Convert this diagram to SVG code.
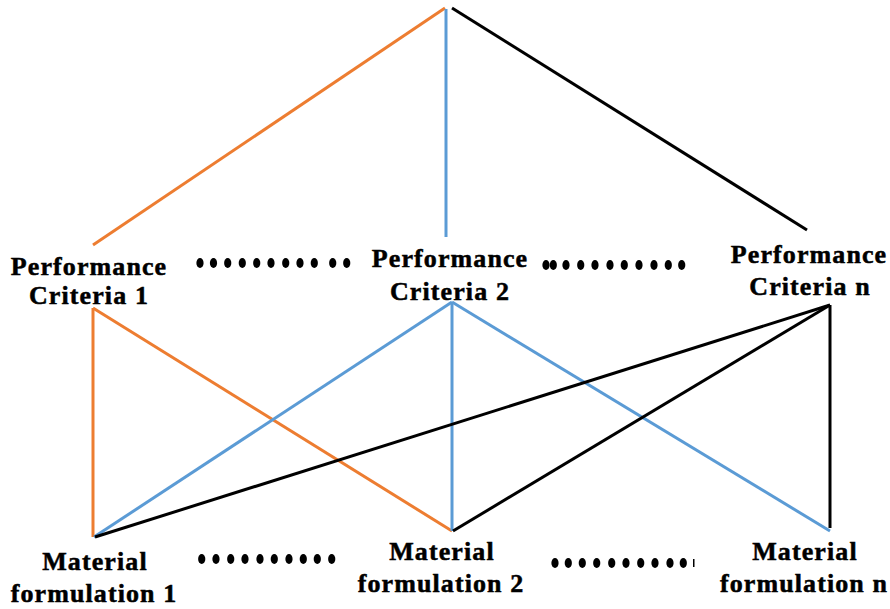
<svg xmlns="http://www.w3.org/2000/svg" width="890" height="609" viewBox="0 0 890 609">
<style>
.o{stroke:#ED7D31}.b{stroke:#5B9BD5}.k{stroke:#000}
#connectors line{stroke-width:3;fill:none}
text{font-family:"Liberation Serif","Times New Roman",serif;font-weight:bold;font-size:26px;letter-spacing:1.1px;fill:#000;stroke:#000;stroke-width:0.5px;text-anchor:middle}
.dots ellipse{fill:#000}
</style>
<defs>
<ellipse id="d" cx="0" cy="0" rx="3.6" ry="5"/>
</defs>
<rect width="890" height="609" fill="#fff"/>
<g id="connectors">
<line class="o" x1="445" y1="8" x2="93" y2="245"/>
<line class="b" x1="446" y1="9" x2="446" y2="237"/>
<line class="k" x1="452" y1="8" x2="807" y2="230"/>
<line class="o" x1="93" y1="308" x2="93" y2="537"/>
<line class="o" x1="93" y1="308" x2="452" y2="531"/>
<line class="b" x1="452" y1="302" x2="94" y2="537"/>
<line class="b" x1="452" y1="302" x2="452" y2="531"/>
<line class="b" x1="452" y1="302" x2="830" y2="531"/>
<line class="k" x1="830" y1="305" x2="95" y2="537"/>
<line class="k" x1="830" y1="305" x2="453" y2="531"/>
<line class="k" x1="830" y1="305" x2="830" y2="528"/>
</g>
<g id="pc1"><text x="89" y="275">Performance</text><text x="89" y="304">Criteria 1</text></g>
<g id="pc2"><text x="450" y="267">Performance</text><text x="450" y="300">Criteria 2</text></g>
<g id="pcn"><text x="809" y="263">Performance</text><text x="810" y="295">Criteria n</text></g>
<g id="mf1"><text x="95" y="570">Material</text><text x="94" y="602">formulation 1</text></g>
<g id="mf2"><text x="442" y="560">Material</text><text x="441" y="592">formulation 2</text></g>
<g id="mfn"><text x="805" y="560">Material</text><text x="804" y="592">formulation n</text></g>
<g class="dots" id="dots1">
<use href="#d" x="200" y="263"/><use href="#d" x="213.5" y="263"/><use href="#d" x="227.7" y="263"/><use href="#d" x="242.3" y="263"/><use href="#d" x="256.7" y="263"/><use href="#d" x="271" y="263"/><use href="#d" x="285.7" y="263"/><use href="#d" x="300" y="263"/><use href="#d" x="314.3" y="263"/><use href="#d" x="332.7" y="263"/><use href="#d" x="346.7" y="263"/>
</g>
<g class="dots" id="dots2">
<use href="#d" x="546" y="265"/><use href="#d" x="553.3" y="265"/><use href="#d" x="566" y="265"/><use href="#d" x="580.7" y="265"/><use href="#d" x="595" y="265"/><use href="#d" x="610" y="265"/><use href="#d" x="624.3" y="265"/><use href="#d" x="639" y="265"/><use href="#d" x="654" y="265"/><use href="#d" x="668.3" y="265"/><use href="#d" x="681.7" y="265"/>
</g>
<g class="dots" id="dots3">
<use href="#d" x="201.7" y="559"/><use href="#d" x="216" y="559"/><use href="#d" x="230.7" y="559"/><use href="#d" x="245" y="559"/><use href="#d" x="260" y="559"/><use href="#d" x="274.3" y="559"/><use href="#d" x="289" y="559"/><use href="#d" x="303.3" y="559"/><use href="#d" x="317.3" y="559"/><use href="#d" x="331.7" y="559"/>
</g>
<g class="dots" id="dots4">
<use href="#d" x="555" y="563"/><use href="#d" x="568.3" y="563"/><use href="#d" x="582.3" y="563"/><use href="#d" x="596.7" y="563"/><use href="#d" x="611.7" y="563"/><use href="#d" x="626" y="563"/><use href="#d" x="640.7" y="563"/><use href="#d" x="655" y="563"/><use href="#d" x="670" y="563"/><use href="#d" x="683.3" y="563"/>
<rect x="693" y="559" width="1.5" height="8" fill="#000"/>
</g>
</svg>
